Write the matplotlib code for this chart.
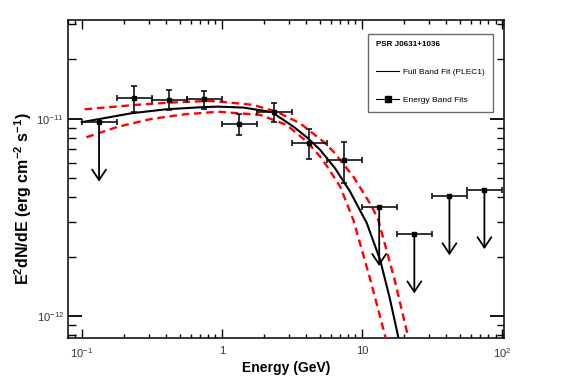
import numpy as np
import matplotlib
matplotlib.use("Agg")
import matplotlib.pyplot as plt
from matplotlib.lines import Line2D
from matplotlib.ticker import FixedLocator, FixedFormatter, LogLocator, NullFormatter

plt.rcParams["font.family"] = ["Liberation Sans", "DejaVu Sans"]
plt.rcParams["mathtext.fontset"] = "custom"
plt.rcParams["mathtext.rm"] = "Liberation Sans"
plt.rcParams["mathtext.bf"] = "Liberation Sans:bold"
plt.rcParams["mathtext.default"] = "regular"

# Energy bands (GeV), 4 per decade
bin_lo = [0.1, 0.178, 0.316, 0.562, 1.0, 1.78, 3.16, 5.62, 10.0, 17.8, 31.6, 56.2]
bin_hi = [0.178, 0.316, 0.562, 1.0, 1.78, 3.16, 5.62, 10.0, 17.8, 31.6, 56.2, 100.0]
bin_c = [0.133, 0.237, 0.422, 0.75, 1.33, 2.37, 4.22, 7.5, 13.3, 23.7, 42.2, 75.0]

# E^2 dN/dE (erg cm^-2 s^-1) per band; nan low/high -> upper limit
flux = [9.6e-12, 1.28e-11, 1.245e-11, 1.26e-11, 9.44e-12, 1.08e-11, 7.57e-12, 6.16e-12,
        3.59e-12, 2.61e-12, 4.07e-12, 4.37e-12]
flux_lo = [np.nan, 1.08e-11, 1.11e-11, 1.12e-11, 8.26e-12, 9.66e-12, 6.24e-12, 4.7e-12,
           np.nan, np.nan, np.nan, np.nan]
flux_hi = [np.nan, 1.47e-11, 1.39e-11, 1.38e-11, 1.05e-11, 1.2e-11, 8.85e-12, 7.6e-12,
           np.nan, np.nan, np.nan, np.nan]
is_ul = [True, False, False, False, False, False, False, False, True, True, True, True]

# Full band fit (PLEC1)
fit_e = [0.1, 0.226, 0.402, 0.714, 0.941, 1.43, 2.27, 3.25, 4.05, 5.04, 6.44, 8.25,
         10.85, 13.5, 15.8, 18.2, 20.0]
fit_f = [9.6e-12, 1.065e-11, 1.116e-11, 1.143e-11, 1.151e-11, 1.138e-11, 1.081e-11,
         9.11e-12, 8.05e-12, 6.95e-12, 5.61e-12, 4.27e-12, 2.96e-12, 1.93e-12, 1.24e-12,
         7.85e-13, 5.5e-13]

# 1-sigma band of the fit
up_e = [0.105, 0.239, 0.413, 0.798, 0.973, 1.68, 2.47, 3.62, 5.32, 6.27, 8.71, 11.8,
        13.1, 17.1, 21.5, 23.5]
up_f = [1.116e-11, 1.173e-11, 1.205e-11, 1.23e-11, 1.22e-11, 1.173e-11, 1.084e-11,
        9.48e-12, 7.65e-12, 6.81e-12, 5.08e-12, 3.59e-12, 3.07e-12, 1.54e-12, 7.76e-13,
        5.5e-13]
lo_e = [0.108, 0.182, 0.314, 0.544, 0.941, 1.88, 2.91, 4.05, 5.04, 5.62, 7.0, 8.7,
        11.46, 14.8, 16.3]
lo_f = [8.05e-12, 9.11e-12, 9.97e-12, 1.052e-11, 1.084e-11, 1.045e-11, 9.29e-12,
        7.65e-12, 6.42e-12, 5.77e-12, 4.53e-12, 3.07e-12, 1.545e-12, 7.76e-13, 5.5e-13]

x_ticks = [0.1, 1, 10, 100]
x_labels = ["$10^{-1}$", "1", "10", "$10^{2}$"]
y_ticks = [1e-12, 1e-11]
y_labels = ["$10^{-12}$", "$10^{-11}$"]


def main():
    fig = plt.figure(figsize=(5.67, 3.84), dpi=100)
    ax = fig.add_axes([0.1199, 0.1198, 0.769, 0.8282])
    ax.set_xscale("log")
    ax.set_yscale("log")
    ax.set_xlim(0.0798, 103.5)
    ax.set_ylim(7.76e-13, 3.16e-11)

    # fit and its band
    ax.plot(fit_e, fit_f, color="black", lw=1.5, zorder=3)
    for e, f in ((up_e, up_f), (lo_e, lo_f)):
        ax.plot(e, f, color="red", lw=1.7, dashes=(3.2, 2.0), zorder=3)

    bin_c_a = np.array(bin_c)
    xerr = [bin_c_a - np.array(bin_lo), np.array(bin_hi) - bin_c_a]
    f = np.array(flux)
    ul = np.array(is_ul)
    yerr = [np.where(ul, 0, f - np.array(flux_lo)), np.where(ul, 0, np.array(flux_hi) - f)]
    yerr = [np.nan_to_num(y) for y in yerr]

    pts = ~ul
    ax.errorbar(bin_c_a[pts], f[pts],
                xerr=[xerr[0][pts], xerr[1][pts]], yerr=[yerr[0][pts], yerr[1][pts]],
                fmt="s", ms=3.5, color="black", ecolor="#111111", elinewidth=1.2,
                capsize=2, capthick=1.2, zorder=4)
    ax.errorbar(bin_c_a[ul], f[ul], xerr=[xerr[0][ul], xerr[1][ul]],
                fmt="s", ms=2.5, color="black", ecolor="#111111", elinewidth=1.2,
                capsize=2, capthick=1.2, zorder=4)
    for e, v in zip(bin_c_a[ul], f[ul]):
        ax.annotate("", xy=(e, v * 0.5), xytext=(e, v),
                    arrowprops=dict(arrowstyle="->,head_length=0.75,head_width=0.5",
                                    color="black", lw=1.3, shrinkA=0, shrinkB=0),
                    zorder=4)

    # axes styling, ROOT-like
    for s in ax.spines.values():
        s.set_linewidth(1.1)
    ax.xaxis.set_major_locator(FixedLocator(x_ticks))
    ax.xaxis.set_major_formatter(FixedFormatter(x_labels))
    ax.yaxis.set_major_locator(FixedLocator(y_ticks))
    ax.yaxis.set_major_formatter(FixedFormatter(y_labels))
    ax.xaxis.set_minor_locator(LogLocator(base=10, subs=np.arange(2, 10), numticks=20))
    ax.yaxis.set_minor_locator(LogLocator(base=10, subs=np.arange(2, 10), numticks=20))
    ax.xaxis.set_minor_formatter(NullFormatter())
    ax.yaxis.set_minor_formatter(NullFormatter())
    ax.tick_params(which="both", direction="in", top=True, right=True, labelsize=8,
                   colors="black", labelcolor="#333333")
    ax.tick_params(axis="x", which="major", length=6.2, width=1, pad=6)
    ax.tick_params(axis="x", which="minor", length=3.1, width=1)
    ax.tick_params(axis="y", which="major", length=10, width=1.3, pad=3)
    ax.tick_params(axis="y", which="minor", length=5.4, width=1)

    ax.set_xlabel("Energy (GeV)", fontsize=10, fontweight="bold")
    ax.set_ylabel("E$^{2}$dN/dE (erg cm$^{-2}$ s$^{-1}$)", fontsize=11.5,
                  fontweight="bold")
    ax.xaxis.set_label_coords(0.5, -0.072)
    ax.yaxis.set_label_coords(-0.079, 0.439)

    handles = [Line2D([], [], color="black", lw=0.8),
               Line2D([], [], color="black", lw=0.8, marker="s", ms=4)]
    leg = ax.legend(handles, ["Full Band Fit (PLEC1)", "Energy Band Fits"],
                    title="PSR J0631+1036", alignment="left",
                    loc="upper left", bbox_to_anchor=(0.689, 0.956),
                    fontsize=6, title_fontproperties={"weight": "bold", "size": 5.8},
                    frameon=True, fancybox=False, edgecolor="#444444",
                    borderpad=0.9, labelspacing=2.4, handlelength=2.8,
                    handletextpad=0.5, borderaxespad=0)
    leg.get_frame().set_linewidth(1.0)

    plt.savefig("out.png", dpi=100)
    print("Saved: out.png")


if __name__ == "__main__":
    main()
